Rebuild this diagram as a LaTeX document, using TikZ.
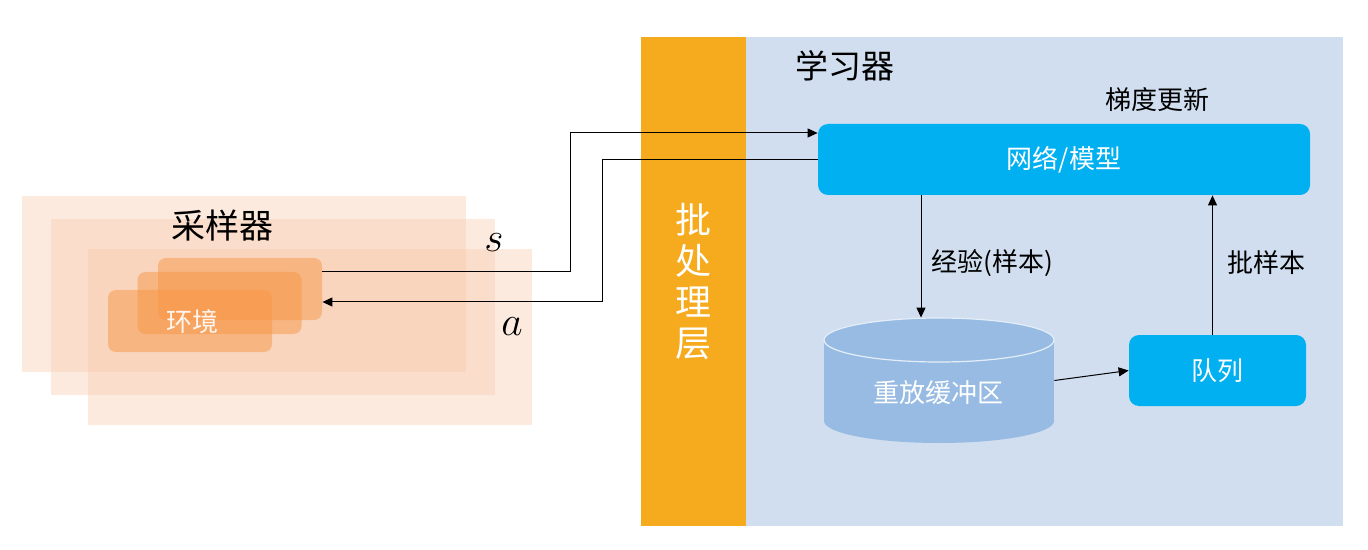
\documentclass[tikz,border=0pt]{standalone}
\usepackage{fontspec}
\setmainfont{Noto Sans CJK SC}
\usetikzlibrary{arrows.meta}
\definecolor{Peach}{HTML}{F8CBAD}
\definecolor{Ember}{HTML}{F79646}
\definecolor{Amber}{HTML}{F6AB1F}
\definecolor{Haze}{HTML}{D0DEEF}
\definecolor{Cyan}{HTML}{00B0F0}
\definecolor{Drum}{HTML}{97BBE2}
\tikzset{
  layer/.style={
    fill=Peach, fill opacity=0.4, minimum width=222pt,
    minimum height=88pt, inner sep=0pt
  },
  envbox/.style={
    rounded corners=4pt, fill=Ember, fill opacity=0.5,
    minimum width=82pt, minimum height=31pt, inner sep=0pt
  },
  block/.style={
    rounded corners=5pt, fill=Cyan, text=white, minimum height=35.5pt,
    inner sep=0pt, font=\fontsize{13}{15}\selectfont
  },
  tag/.style={font=\fontsize{13}{15}\selectfont},
  flow/.style={-{Triangle[length=5pt,width=4.5pt]}, line width=0.5pt, draw=black}
}

\begin{document}
\begin{tikzpicture}[x=0.5pt,y=-0.5pt]
    \fill[white] (0,0) rectangle (1368,550);
    \useasboundingbox (0,0) rectangle (1368,550);
    % sampler side
    \node[layer] (layer1) at (244,284) {};
    \node[layer] (layer2) at (272.5,307) {};
    \node[layer] (layer3) at (309.5,337) {};
    \node[font=\fontsize{17}{20}\selectfont] (samplerlabel) at (222,226) {采样器};
    \node[envbox] (envC) at (190,321) {};
    \node[envbox] (envB) at (219.5,303) {};
    \node[envbox] (envA) at (240,289) {};
    \node[tag, text=white, text opacity=0.9] (envlabel) at (192,322) {环境};
    \node[font=\fontsize{21}{24}\selectfont] (slabel) at (494,243) {$s$};
    \node[font=\fontsize{21}{24}\selectfont] (alabel) at (512,327) {$a$};
    % batch layer and learner
    \node[fill=Amber, minimum width=52.5pt, minimum height=244.5pt, inner sep=0pt,
      text=white, align=center, font=\fontsize{18}{20.5}\selectfont] (batchlayer) at (693.5,281.5) {批\\处\\理\\层};
    \node[fill=Haze, minimum width=298.5pt, minimum height=244.5pt, inner sep=0pt] (learner) at (1044.5,281.5) {};
    \node[font=\fontsize{16.5}{19}\selectfont] (learnerlabel) at (845,66) {学习器};
    \node[tag] (gradlabel) at (1157,100) {梯度更新};
    \node[block, minimum width=246pt] (network) at (1064,159.5) {网络/模型};
    \node[block, minimum width=88.5pt] (queue) at (1217.5,370.5) {队列};
    % replay buffer drum
    \fill[Drum] (824,340) rectangle (1054,421);
    \fill[Drum] (939,421) ellipse (115 and 22);
    \fill[Drum] (939,340) ellipse (115 and 22);
    \draw[white!75!Drum, line width=0.6pt] (939,340) ellipse (115 and 22);
    \node[minimum width=115pt, minimum height=62.5pt, inner sep=0pt] (buffer) at (939,380.5) {};
    \node[tag, text=white] (bufferlabel) at (938,393) {重放缓冲区};
    \coordinate (bufin) at ([xshift=-9pt]buffer.north);
    \node[tag] (explabel) at (992,263) {经验(样本)};
    \node[tag] (batchsamples) at (1266,263) {批样本};
    % connectors
    \draw[flow] ([yshift=8.5pt]envA.east) -- ++(248,0) |- ([yshift=13.25pt]network.west);
    \draw[flow] (network.west) -- ++(-215,0) |- ([yshift=-6.5pt]envA.east);
    \draw[flow] (network.south -| bufin) -- (bufin);
    \draw[flow] (buffer.east) -- (queue.west);
    \draw[flow] ([xshift=-2.5pt]queue.north) -- ([xshift=-2.5pt]queue.north |- network.south);
\end{tikzpicture}
\end{document}
